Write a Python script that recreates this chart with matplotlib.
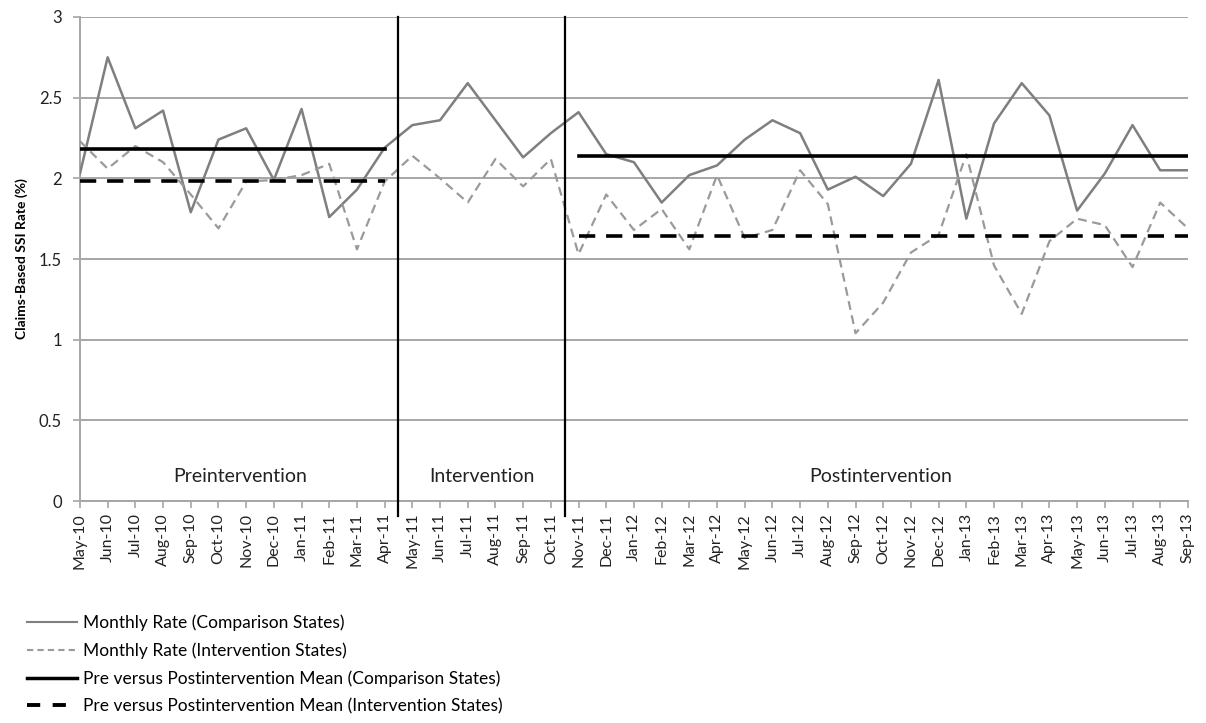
import matplotlib.pyplot as plt
from matplotlib.lines import Line2D

months = ["May-10", "Jun-10", "Jul-10", "Aug-10", "Sep-10", "Oct-10", "Nov-10", "Dec-10",
          "Jan-11", "Feb-11", "Mar-11", "Apr-11", "May-11", "Jun-11", "Jul-11", "Aug-11",
          "Sep-11", "Oct-11", "Nov-11", "Dec-11", "Jan-12", "Feb-12", "Mar-12", "Apr-12",
          "May-12", "Jun-12", "Jul-12", "Aug-12", "Sep-12", "Oct-12", "Nov-12", "Dec-12",
          "Jan-13", "Feb-13", "Mar-13", "Apr-13", "May-13", "Jun-13", "Jul-13", "Aug-13",
          "Sep-13"]

comparison = [2.03, 2.75, 2.31, 2.42, 1.79, 2.24, 2.31, 1.99, 2.43, 1.76, 1.93, 2.19,
              2.33, 2.36, 2.59, 2.36, 2.13, 2.28,
              2.41, 2.15, 2.10, 1.85, 2.02, 2.08, 2.24, 2.36, 2.28, 1.93, 2.01, 1.89,
              2.09, 2.61, 1.75, 2.34, 2.59, 2.39, 1.80, 2.03, 2.33, 2.05, 2.05]

intervention = [2.23, 2.06, 2.20, 2.10, 1.90, 1.69, 1.98, 1.99, 2.02, 2.09, 1.56, 1.98,
                2.14, 2.00, 1.85, 2.12, 1.95, 2.12,
                1.53, 1.90, 1.68, 1.81, 1.56, 2.02, 1.63, 1.68, 2.05, 1.84, 1.04, 1.23,
                1.54, 1.65, 2.15, 1.46, 1.16, 1.61, 1.75, 1.71, 1.45, 1.85, 1.69]

# period boundaries (month index) and means
pre_end, post_start = 11, 18
pre_mean_comp, post_mean_comp = 2.18, 2.14
pre_mean_int, post_mean_int = 1.985, 1.64
periods = ["Preintervention", "Intervention", "Postintervention"]
period_centers = [5.8, 14.5, 28.9]

plt.rcParams['font.family'] = ['Lato', 'DejaVu Sans']

fig = plt.figure(figsize=(12.06, 7.23), dpi=100)
ax = fig.add_axes([0.0663, 0.307, 0.9187, 0.6695])

x = list(range(len(months)))
ax.plot(x, comparison, color='#7f7f7f', lw=1.8, zorder=3)
ax.plot(x, intervention, color='#9a9a9a', lw=1.6, dashes=(4, 2.5), zorder=3)

ax.plot([0, pre_end], [pre_mean_comp] * 2, color='black', lw=2.6, zorder=4)
ax.plot([post_start, len(months) - 1], [post_mean_comp] * 2, color='black', lw=2.6, zorder=4)
ax.plot([0, pre_end], [pre_mean_int] * 2, color='black', lw=2.6, dashes=(4.5, 3), zorder=4)
ax.plot([post_start, len(months) - 1], [post_mean_int] * 2, color='black', lw=2.6,
        dashes=(4.5, 3), zorder=4)

for xv in (pre_end + 0.5, post_start - 0.5):
    ax.axvline(xv, ymin=-0.03, ymax=1, color='black', lw=1.6, clip_on=False, zorder=5)

for label, cx in zip(periods, period_centers):
    ax.text(cx, 0.155, label, ha='center', va='center', fontsize=14, color='#222222')

ax.set_xlim(0, len(months) - 1)
ax.set_ylim(0, 3)
ax.set_yticks([0, 0.5, 1, 1.5, 2, 2.5, 3])
ax.set_yticklabels(["0", "0.5", "1", "1.5", "2", "2.5", "3"], fontsize=12, color='#222222')
ax.set_xticks(x)
ax.set_xticklabels(months, rotation=90, fontsize=11.5, color='#222222')
ax.grid(axis='y', color='#a6a6a6', lw=1.4)
ax.set_axisbelow(True)
for s in ('top', 'right'):
    ax.spines[s].set_visible(False)
for s in ('left', 'bottom'):
    ax.spines[s].set_color('#a6a6a6')
    ax.spines[s].set_linewidth(1.4)
ax.tick_params(axis='both', colors='#a6a6a6', length=5, width=1.2, labelcolor='#222222')
ax.tick_params(axis='y', pad=8)
ax.set_ylabel("Claims-Based SSI Rate (%)", fontsize=10, fontweight='bold', labelpad=8)

handles = [
    Line2D([], [], color='#7f7f7f', lw=1.5),
    Line2D([], [], color='#9a9a9a', lw=1.5, dashes=(3, 2)),
    Line2D([], [], color='black', lw=2.5),
    Line2D([], [], color='black', lw=2.8, dashes=(3.4, 3.2)),
]
labels = ["Monthly Rate (Comparison States)",
          "Monthly Rate (Intervention States)",
          "Pre versus Postintervention Mean (Comparison States)",
          "Pre versus Postintervention Mean (Intervention States)"]
fig.legend(handles, labels, loc='upper left', bbox_to_anchor=(0.0224, 0.150),
           frameon=False, fontsize=12.5, handlelength=2.9, handletextpad=0.35,
           labelspacing=0.65, borderaxespad=0, borderpad=0)

fig.savefig("out.png", dpi=100)
